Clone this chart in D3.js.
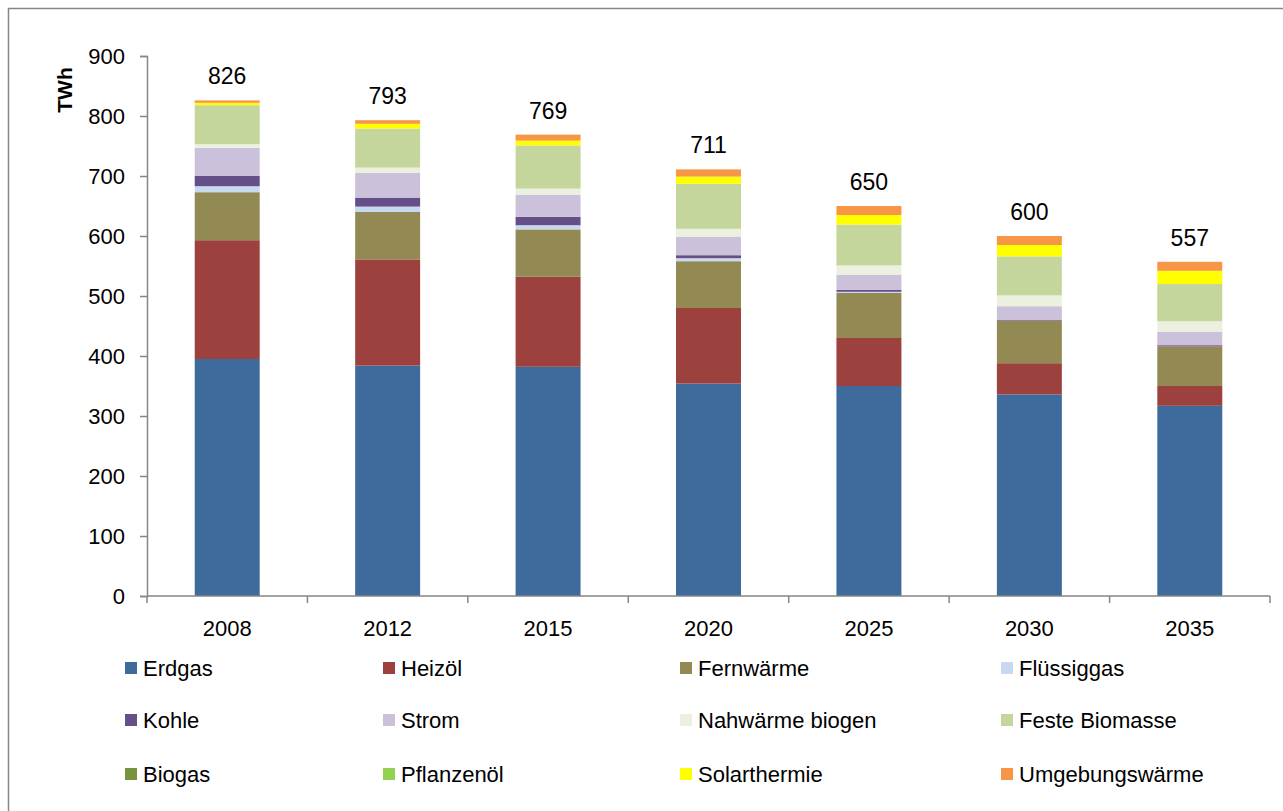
<!DOCTYPE html>
<html>
<head>
<meta charset="utf-8">
<script src="https://cdn.jsdelivr.net/npm/d3@7"></script>
<style>
  body { margin: 0; background: #fff; }
  text { font-family: "Liberation Sans", Arial, sans-serif; fill: #000; }
</style>
</head>
<body>
<div id="chart"></div>
<script>

// categories and series (TWh)
const years = ["2008", "2012", "2015", "2020", "2025", "2030", "2035"];
const seriesNames = ["Erdgas", "Heizöl", "Fernwärme", "Flüssiggas", "Kohle", "Strom",
    "Nahwärme biogen", "Feste Biomasse", "Biogas", "Pflanzenöl", "Solarthermie", "Umgebungswärme"];
const erdgas         = [395, 384, 382, 354, 350, 336, 317];
const heizoel        = [198, 177, 150, 126,  80,  52,  33];
const fernwaerme     = [ 80,  79,  79,  78,  75,  71,  66];
const fluessiggas    = [ 10,   9,   7,   5,   2,   0,   0];
const kohle          = [ 17,  15,  14,   5,   3,   1,   2];
const strom          = [ 47,  41,  37,  31,  25,  23,  22];
const nahwaerme      = [  6,   9,  10,  13,  16,  18,  18];
const festeBiomasse  = [ 65,  65,  72,  75,  68,  65,  62];
const biogas         = [  0,   0,   0,   0,   0,   0,   0];
const pflanzenoel    = [  0,   0,   0,   0,   0,   0,   0];
const solarthermie   = [  4,   8,   8,  12,  16,  19,  22];
const umgebung       = [  4,   6,  10,  12,  15,  15,  15];
const totals         = [826, 793, 769, 711, 650, 600, 557];
const yTicks = [0, 100, 200, 300, 400, 500, 600, 700, 800, 900];

const colors = ["#3F6A9C", "#9C413E", "#938953", "#C6D9F1", "#664F88", "#CBC1DB",
    "#EBF1DE", "#C4D69C", "#77933C", "#92D050", "#FFFF00", "#F79646"];

const seriesValues = [erdgas, heizoel, fernwaerme, fluessiggas, kohle, strom,
    nahwaerme, festeBiomasse, biogas, pflanzenoel, solarthermie, umgebung];

// build table rows for d3.stack
const table = years.map((y, i) => {
    const row = { year: y };
    seriesNames.forEach((s, j) => row[s] = seriesValues[j][i]);
    return row;
});

const width = 1283, height = 811;

const svg = d3.select("#chart").append("svg")
    .attr("width", width)
    .attr("height", height);

// outer frame
svg.append("rect")
    .attr("x", 8.5).attr("y", 8.5)
    .attr("width", width + 10).attr("height", height + 10)
    .attr("fill", "none")
    .attr("stroke", "#868686")
    .attr("stroke-width", 1.5);

const x = d3.scaleBand()
    .domain(years)
    .range([147, 1270])
    .paddingInner(0.595)
    .paddingOuter(0.2975);

const y = d3.scaleLinear()
    .domain([0, 900])
    .range([596, 56]);

const stack = d3.stack().keys(seriesNames);
const layers = stack(table);

svg.selectAll(".layer")
    .data(layers)
    .enter()
    .append("g")
    .attr("class", "layer")
    .attr("fill", (d, i) => colors[i])
    .selectAll("rect")
    .data(d => d)
    .enter()
    .append("rect")
    .attr("x", d => x(d.data.year))
    .attr("y", d => y(d[1]))
    .attr("width", x.bandwidth())
    .attr("height", d => y(d[0]) - y(d[1]));

// total labels
svg.selectAll(".total")
    .data(years)
    .enter()
    .append("text")
    .attr("class", "total")
    .attr("x", d => x(d) + x.bandwidth() / 2)
    .attr("y", (d, i) => y(totals[i]) - 16)
    .attr("text-anchor", "middle")
    .style("font-size", "23px")
    .text((d, i) => totals[i]);

// y axis
const yAxis = svg.append("g")
    .attr("transform", "translate(147,0)")
    .call(d3.axisLeft(y).tickValues(yTicks).tickSize(7).tickPadding(15));
yAxis.select(".domain").attr("stroke", "#868686").attr("stroke-width", 1.5);
yAxis.selectAll(".tick line").attr("stroke", "#868686").attr("stroke-width", 1.5);
yAxis.selectAll(".tick text")
    .style("font-size", "22px")
    .style("font-family", "'Liberation Sans', Arial, sans-serif");

// x axis with tick marks between categories
const xAxisG = svg.append("g").attr("transform", "translate(0,596)");
xAxisG.append("line")
    .attr("x1", 147).attr("x2", 1270)
    .attr("stroke", "#868686").attr("stroke-width", 1.5);
const bounds = years.map((d, i) => x.range()[0] + i * x.step());
bounds.push(x.range()[1]);
xAxisG.selectAll(".xtick")
    .data(bounds)
    .enter()
    .append("line")
    .attr("x1", d => d).attr("x2", d => d)
    .attr("y1", 0).attr("y2", 7)
    .attr("stroke", "#868686").attr("stroke-width", 1.5);
xAxisG.selectAll(".xlabel")
    .data(years)
    .enter()
    .append("text")
    .attr("x", d => x(d) + x.bandwidth() / 2)
    .attr("y", 40)
    .attr("text-anchor", "middle")
    .style("font-size", "22px")
    .text(d => d);

// y axis title
svg.append("text")
    .attr("transform", "translate(72,90) rotate(-90)")
    .attr("text-anchor", "middle")
    .style("font-size", "21px")
    .style("font-weight", "bold")
    .text("TWh");

// legend, 4 columns x 3 rows
const legendCols = [125, 383, 680, 1001];
const legendRows = [668, 720, 774];
const legend = svg.selectAll(".legend")
    .data(seriesNames)
    .enter()
    .append("g")
    .attr("class", "legend")
    .attr("transform", (d, i) => `translate(${legendCols[i % 4]},${legendRows[Math.floor(i / 4)]})`);
legend.append("rect")
    .attr("x", 0).attr("y", -6)
    .attr("width", 12).attr("height", 12)
    .attr("fill", (d, i) => colors[i]);
legend.append("text")
    .attr("x", 18)
    .attr("y", 0)
    .attr("dy", "0.36em")
    .style("font-size", "22px")
    .text(d => d);

</script>
</body>
</html>
